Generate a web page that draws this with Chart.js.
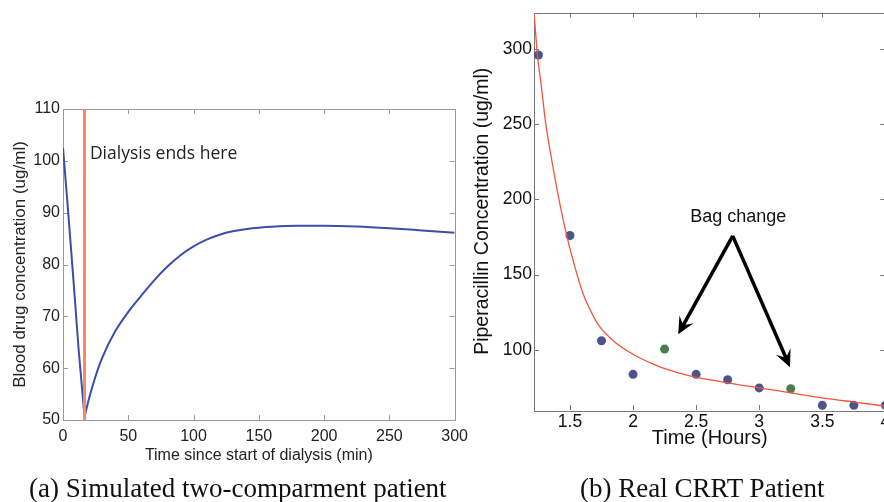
<!DOCTYPE html>
<html>
<head>
<meta charset="utf-8">
<script src="https://cdn.jsdelivr.net/npm/chart.js@4.4.0/dist/chart.umd.min.js"></script>
<style>
    body { margin: 0; width: 884px; height: 502px; overflow: hidden; background: #fff; position: relative; }
    #simChart { position: absolute; left: 0; top: 90px; }
    #crrtChart { position: absolute; left: 460px; top: 0; }
    .caption { position: absolute; top: 473px; font-family: "Liberation Serif", serif; font-size: 27px; color: #111; white-space: nowrap; }
</style>
</head>
<body>
<canvas id="simChart" width="475" height="385"></canvas>
<canvas id="crrtChart" width="440" height="460"></canvas>
<div class="caption" style="left:29px">(a) Simulated two-comparment patient</div>
<div class="caption" style="left:580px">(b) Real CRRT Patient</div>
<script>
// (a) simulated two-compartment patient
const dialysisMin = [0, 4, 8, 12, 16.5];
const dialysisConc = [102.5, 90, 77, 63.5, 50.6];
const recoveryMin = [16.5, 20, 25, 30, 40, 50, 60, 70, 80, 90, 100, 110, 120, 130, 145, 160, 180, 200, 225, 250, 275, 300];
const recoveryConc = [50.6, 54.2, 58.5, 62.0, 67.1, 70.85, 74.0, 77.0, 79.6, 81.8, 83.5, 84.8, 85.75, 86.4, 87.0, 87.3, 87.48, 87.49, 87.33, 87.0, 86.57, 86.12];
const dialysisEnd = 16.5;
const minuteTicks = [0, 50, 100, 150, 200, 250, 300];
const bloodTicks = [50, 60, 70, 80, 90, 100, 110];

// (b) real CRRT patient
const sampleHours = [1.25, 1.5, 1.75, 2.0, 2.5, 2.75, 3.0, 3.5, 3.75, 4.0];
const sampleConc = [296, 176, 106, 83.6, 83.6, 80, 74.6, 63, 63, 63];
const bagHours = [2.25, 3.25];
const bagConc = [100.4, 74];
const fitHours = [1.215, 1.223, 1.241, 1.275, 1.307, 1.36, 1.42, 1.474, 1.526, 1.605, 1.7, 1.738, 1.85, 1.95, 2.055, 2.15, 2.24, 2.45, 2.75, 3.0, 3.25, 3.5, 3.75, 4.0];
const fitConc = [324, 316, 297, 274, 251, 224, 197, 176, 159, 137, 120, 115, 105.5, 99.5, 94.5, 90.8, 87.8, 82.6, 78, 74.6, 71.3, 68, 65.2, 62.5];
const hourTicks = [1.5, 2, 2.5, 3, 3.5, 4];
const pipTicks = [100, 150, 200, 250, 300];

const pts = (xs, ys) => xs.map((x, i) => ({ x: x, y: ys[i] }));
const fixTicks = list => scale => { scale.ticks = list.map(v => ({ value: v })); };

// box round the plot with small inward ticks on all four sides
const framePlugin = {
    id: 'frame',
    beforeDatasetsDraw(chart, args, opts) {
        const { ctx, chartArea: a, scales } = chart;
        const len = opts.len || 5;
        ctx.save();
        ctx.strokeStyle = opts.color || '#888';
        ctx.lineWidth = 1;
        ctx.beginPath();
        ctx.rect(Math.round(a.left) + 0.5, Math.round(a.top) + 0.5, Math.round(a.width), Math.round(a.height));
        scales.x.ticks.forEach(t => {
            const px = Math.round(scales.x.getPixelForValue(t.value)) + 0.5;
            ctx.moveTo(px, a.bottom); ctx.lineTo(px, a.bottom - len);
            ctx.moveTo(px, a.top); ctx.lineTo(px, a.top + len);
        });
        scales.y.ticks.forEach(t => {
            const py = Math.round(scales.y.getPixelForValue(t.value)) + 0.5;
            ctx.moveTo(a.left, py); ctx.lineTo(a.left + len, py);
            ctx.moveTo(a.right, py); ctx.lineTo(a.right - len, py);
        });
        ctx.stroke();
        ctx.restore();
    }
};
Chart.register(framePlugin);

function drawArrow(ctx, x0, y0, x1, y1) {
    const ang = Math.atan2(y1 - y0, x1 - x0);
    const c = Math.cos(ang), s = Math.sin(ang);
    const len = 17, half = 8;
    ctx.beginPath();
    ctx.moveTo(x0, y0);
    ctx.lineTo(x1 - c * len * 0.6, y1 - s * len * 0.6);
    ctx.stroke();
    ctx.beginPath();
    ctx.moveTo(x1, y1);
    ctx.lineTo(x1 - c * len - s * half, y1 - s * len + c * half);
    ctx.lineTo(x1 - c * len * 0.6, y1 - s * len * 0.6);
    ctx.lineTo(x1 - c * len + s * half, y1 - s * len - c * half);
    ctx.closePath();
    ctx.fill();
}

const simNotes = {
    id: 'simNotes',
    afterDatasetsDraw(chart) {
        const { ctx, scales: { x, y } } = chart;
        ctx.save();
        ctx.font = '17.5px "Open Sans"';
        ctx.fillStyle = '#222';
        ctx.textBaseline = 'middle';
        ctx.fillText('Dialysis ends here', x.getPixelForValue(20.6), y.getPixelForValue(101.3));
        ctx.restore();
    }
};

const crrtNotes = {
    id: 'crrtNotes',
    afterDatasetsDraw(chart) {
        const { ctx, scales: { x, y } } = chart;
        ctx.save();
        ctx.font = '18px "Liberation Sans"';
        ctx.fillStyle = '#111';
        ctx.textAlign = 'center';
        ctx.textBaseline = 'middle';
        ctx.fillText('Bag change', x.getPixelForValue(2.834), y.getPixelForValue(188.2));
        ctx.strokeStyle = '#000';
        ctx.fillStyle = '#000';
        ctx.lineWidth = 3.5;
        const sx = x.getPixelForValue(2.79), sy = y.getPixelForValue(175.7);
        drawArrow(ctx, sx, sy, x.getPixelForValue(2.358), y.getPixelForValue(110.3));
        drawArrow(ctx, sx, sy, x.getPixelForValue(3.244), y.getPixelForValue(88.4));
        ctx.restore();
    }
};

const sans = '"Liberation Sans", Arial, sans-serif';

new Chart(document.getElementById('simChart'), {
    type: 'scatter',
    data: {
        datasets: [
            {
                data: [{ x: dialysisEnd, y: 50 }, { x: dialysisEnd, y: 110 }],
                showLine: true, borderColor: '#f6896b', borderWidth: 3, pointRadius: 0
            },
            {
                data: pts(dialysisMin, dialysisConc),
                showLine: true, borderColor: '#3c4ea5', borderWidth: 2, pointRadius: 0
            },
            {
                data: pts(recoveryMin, recoveryConc),
                showLine: true, borderColor: '#3c4ea5', borderWidth: 2, pointRadius: 0,
                cubicInterpolationMode: 'monotone'
            }
        ]
    },
    options: {
        responsive: false,
        animation: false,
        layout: { padding: { left: 0, top: 19, right: 18, bottom: 0 } },
        plugins: { legend: { display: false }, tooltip: { enabled: false }, frame: { color: '#9a9a9a' } },
        scales: {
            x: {
                type: 'linear', min: 0, max: 300,
                afterBuildTicks: fixTicks(minuteTicks),
                afterFit: s => { s.height = 55; },
                grid: { display: false, drawTicks: false }, border: { display: false },
                ticks: { font: { family: sans, size: 16 }, color: '#222', padding: 7, maxRotation: 0, autoSkip: false },
                title: { display: true, text: 'Time since start of dialysis (min)', font: { family: sans, size: 16 }, color: '#222', padding: { top: 0, bottom: 10 } }
            },
            y: {
                min: 50, max: 110,
                afterBuildTicks: fixTicks(bloodTicks),
                afterFit: s => { s.width = 63; },
                grid: { display: false, drawTicks: false }, border: { display: false },
                ticks: { font: { family: sans, size: 16 }, color: '#222', padding: 3, autoSkip: false },
                title: { display: true, text: 'Blood drug concentration (ug/ml)', font: { family: sans, size: 17 }, color: '#222', padding: { top: 10, bottom: 0 } }
            }
        }
    },
    plugins: [simNotes]
});

new Chart(document.getElementById('crrtChart'), {
    type: 'scatter',
    data: {
        datasets: [
            {
                data: pts(fitHours, fitConc),
                showLine: true, borderColor: '#f2553c', borderWidth: 1.3, pointRadius: 0,
                cubicInterpolationMode: 'monotone'
            },
            {
                data: pts(sampleHours, sampleConc),
                pointRadius: 4.5, pointBackgroundColor: '#4b5589', pointBorderWidth: 0, clip: false
            },
            {
                data: pts(bagHours, bagConc),
                pointRadius: 4.5, pointBackgroundColor: '#4e7c4e', pointBorderWidth: 0, clip: false
            }
        ]
    },
    options: {
        responsive: false,
        animation: false,
        layout: { padding: { left: 0, top: 8, right: 14.6, bottom: 0 } },
        plugins: { legend: { display: false }, tooltip: { enabled: false }, frame: { color: '#777' } },
        scales: {
            x: {
                type: 'linear', min: 1.215, max: 4.0,
                afterBuildTicks: fixTicks(hourTicks),
                afterFit: s => { s.height = 50; },
                grid: { display: false, drawTicks: false }, border: { display: false },
                ticks: { font: { family: sans, size: 17.5 }, color: '#111', padding: 1.5, maxRotation: 0, autoSkip: false, callback: v => String(v) },
                title: { display: true, text: 'Time (Hours)', font: { family: sans, size: 20 }, color: '#111', padding: { top: 0, bottom: 10 } }
            },
            y: {
                min: 59.9, max: 324.3,
                afterBuildTicks: fixTicks(pipTicks),
                afterFit: s => { s.width = 74; },
                grid: { display: false, drawTicks: false }, border: { display: false },
                ticks: { font: { family: sans, size: 17.5 }, color: '#111', padding: 2, autoSkip: false, callback: v => String(v) },
                title: { display: true, text: 'Piperacillin Concentration (ug/ml)', font: { family: sans, size: 19.5 }, color: '#111', padding: { top: 11.3, bottom: 0 } }
            }
        }
    },
    plugins: [crrtNotes]
});
</script>
</body>
</html>
